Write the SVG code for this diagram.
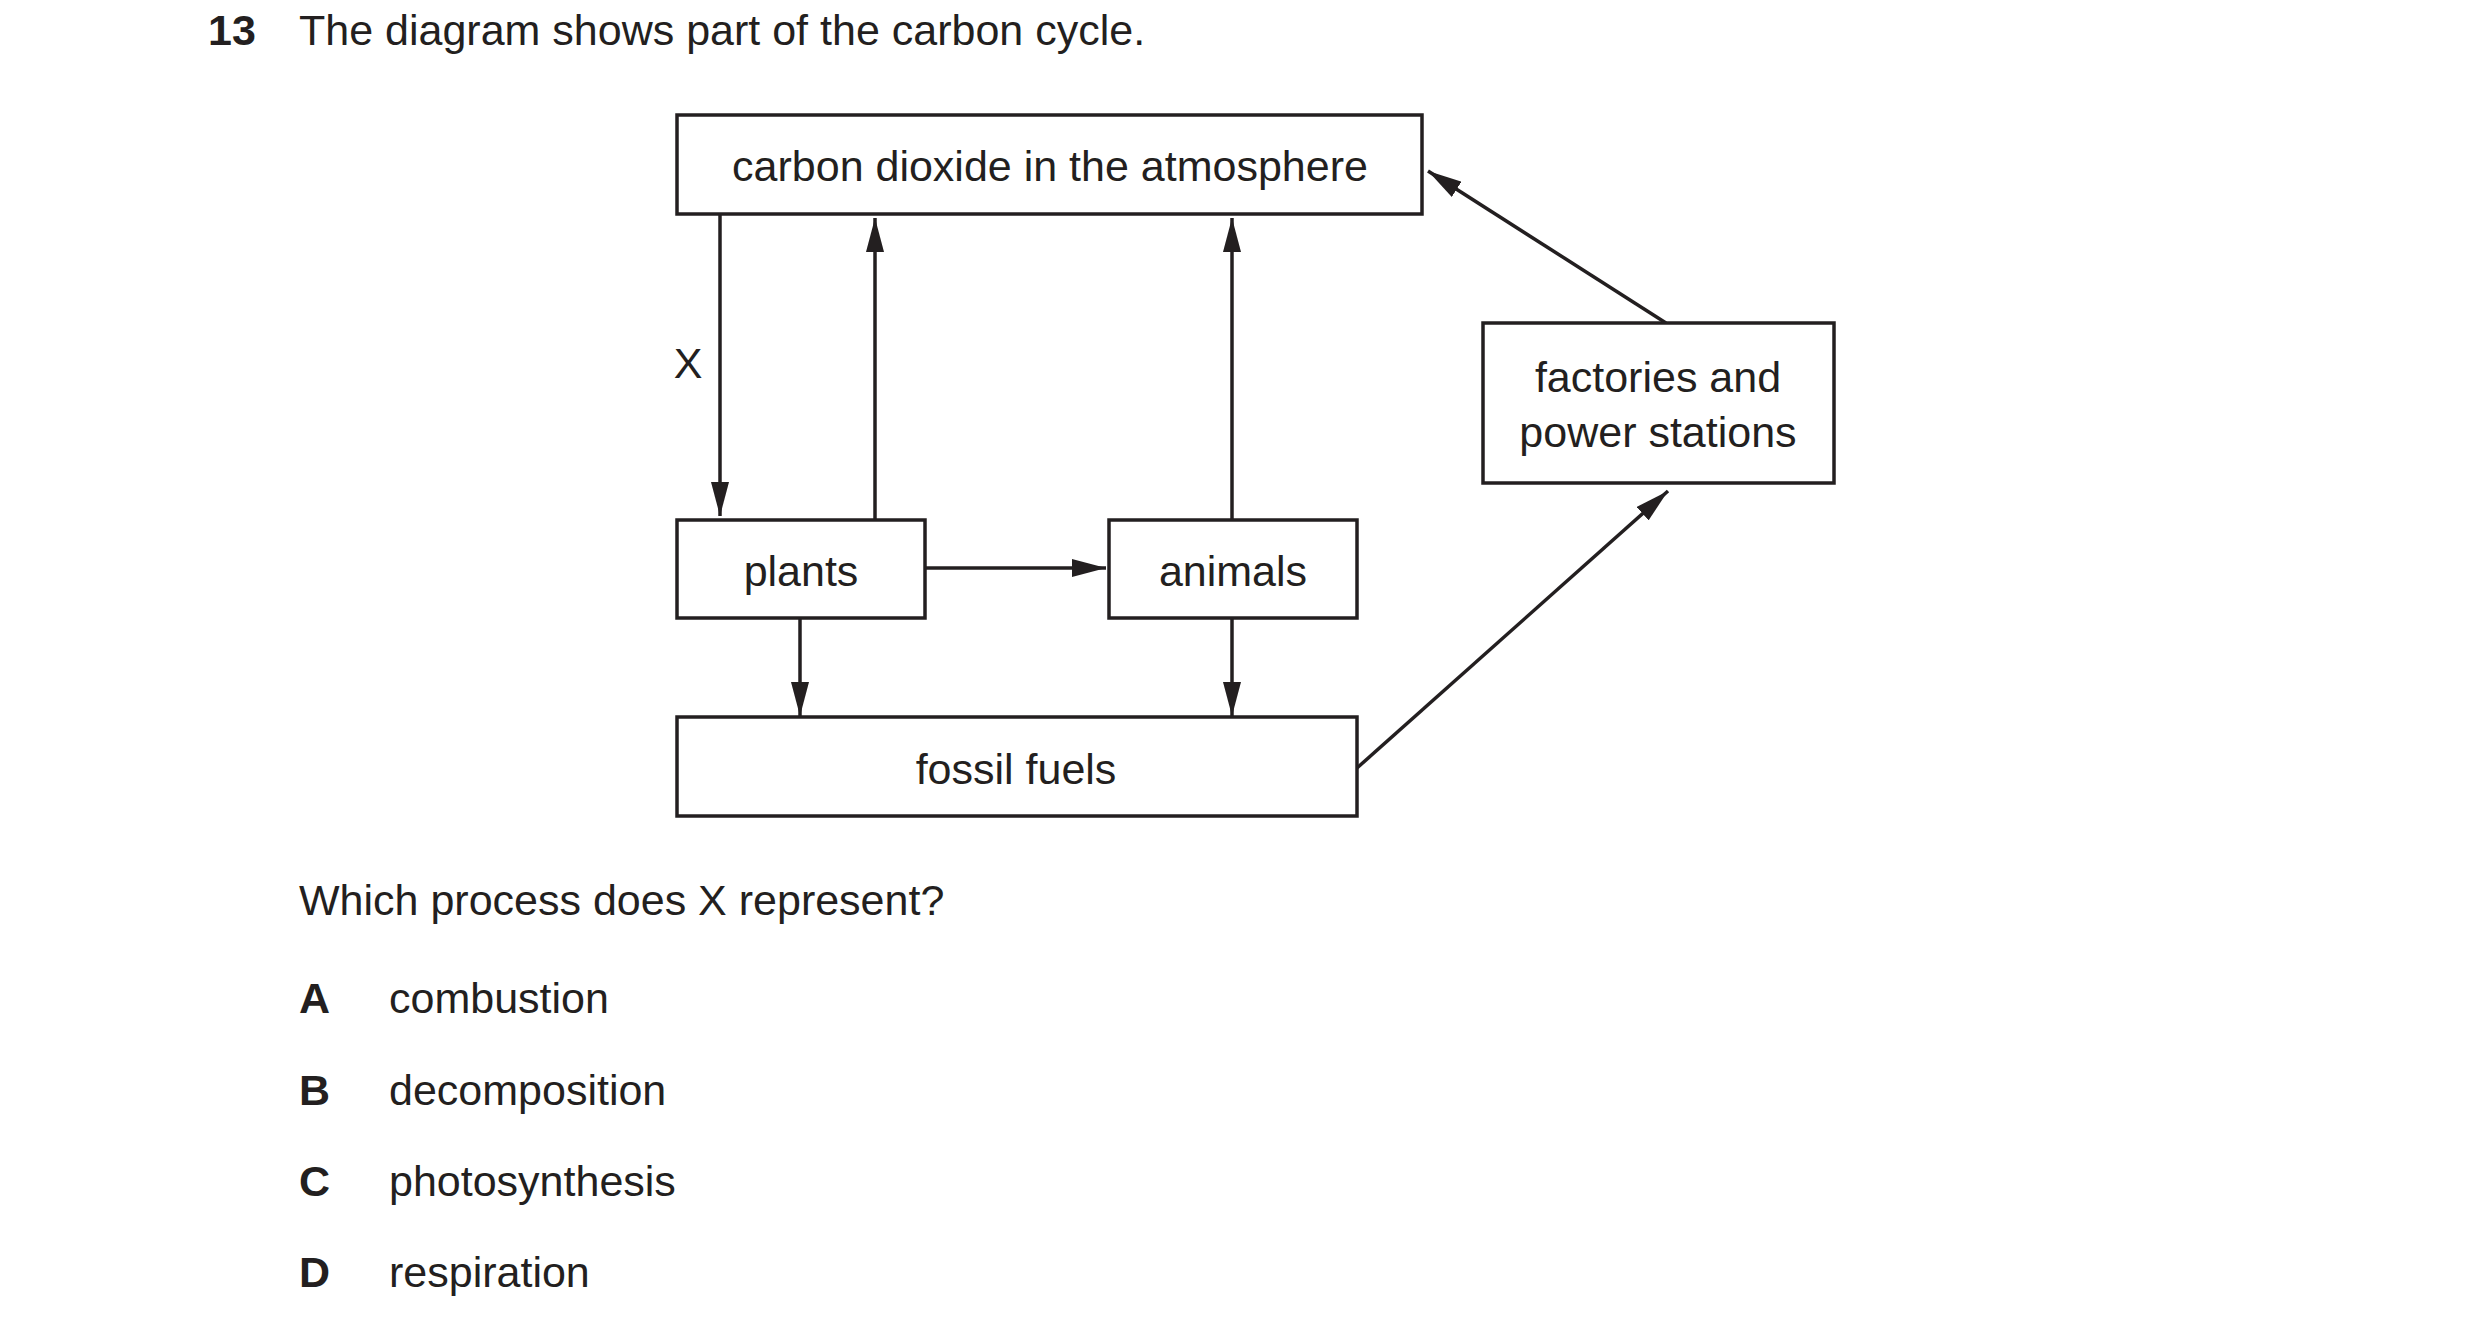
<svg xmlns="http://www.w3.org/2000/svg" width="2480" height="1322" viewBox="0 0 2480 1322">
<style>
text{font-family:"Liberation Sans",Arial,sans-serif;font-size:43px;fill:#231f20}
.c{text-anchor:middle}
.b{font-weight:bold}
rect{fill:#fff;stroke:#231f20;stroke-width:3.5}
line{stroke:#231f20;stroke-width:3.5;marker-end:url(#ah)}
</style>
<defs>
<marker id="ah" markerUnits="userSpaceOnUse" markerWidth="34" markerHeight="18" refX="34" refY="9" orient="auto">
<path d="M0,0 L34,9 L0,18 Z" fill="#231f20"/>
</marker>
</defs>
<rect width="2480" height="1322" style="stroke:none"/>
<text x="208" y="45" class="b">13</text>
<text x="299" y="45">The diagram shows part of the carbon cycle.</text>
<g id="connectors">
<line x1="720" y1="214" x2="720" y2="516"/>
<line x1="875" y1="520" x2="875" y2="218"/>
<line x1="1232" y1="520" x2="1232" y2="218"/>
<line x1="925" y1="568" x2="1106" y2="568"/>
<line x1="800" y1="618" x2="800" y2="716"/>
<line x1="1232" y1="618" x2="1232" y2="716"/>
<line x1="1357" y1="768" x2="1668" y2="491"/>
<line x1="1666" y1="323" x2="1428" y2="171"/>
<text x="688" y="378" class="c">X</text>
</g>
<g id="co2"><rect x="677" y="115" width="745" height="99"/><text x="1050" y="181" class="c">carbon dioxide in the atmosphere</text></g>
<g id="factories"><rect x="1483" y="323" width="351" height="160"/><text x="1658" y="392" class="c">factories and</text><text x="1658" y="447" class="c">power stations</text></g>
<g id="plants"><rect x="677" y="520" width="248" height="98"/><text x="801" y="586" class="c">plants</text></g>
<g id="animals"><rect x="1109" y="520" width="248" height="98"/><text x="1233" y="586" class="c">animals</text></g>
<g id="fossil"><rect x="677" y="717" width="680" height="99"/><text x="1016" y="784" class="c">fossil fuels</text></g>
<text x="299" y="915">Which process does X represent?</text>
<text x="299" y="1013" class="b">A</text><text x="389" y="1013">combustion</text>
<text x="299" y="1105" class="b">B</text><text x="389" y="1105">decomposition</text>
<text x="299" y="1196" class="b">C</text><text x="389" y="1196">photosynthesis</text>
<text x="299" y="1287" class="b">D</text><text x="389" y="1287">respiration</text>
</svg>
